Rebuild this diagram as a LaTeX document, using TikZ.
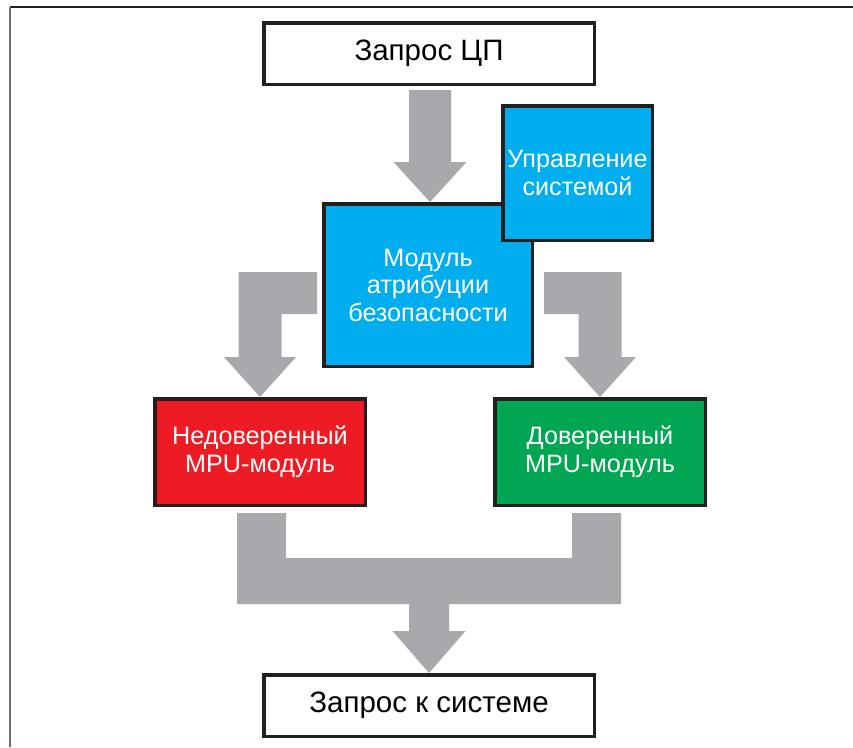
\documentclass[tikz,border=0pt]{standalone}
\usepackage{fontspec}
\setmainfont{Liberation Sans}
\usetikzlibrary{calc}

\definecolor{frameline}{HTML}{231F20}
\definecolor{frameside}{HTML}{6D6E71}
\definecolor{arrowgray}{HTML}{A7A9AC}
\definecolor{boxblue}{HTML}{00AEEF}
\definecolor{boxred}{HTML}{ED1C24}
\definecolor{boxgreen}{HTML}{00A651}

\tikzset{
  x=1pt, y=1pt,
  block/.style={draw=frameline, line width=3.5pt, rectangle, align=center,
                inner sep=0pt},
  plainbox/.style={block, fill=white, text=black, font=\fontsize{29.5}{34}\selectfont,
                   minimum width=330.5pt, minimum height=61.5pt},
  colorbox/.style={block, text=white, font=\fontsize{25.2}{27.5}\selectfont},
  blockarrow/.style={fill=arrowgray, draw=none},
}

\begin{document}
\begin{tikzpicture}
  \useasboundingbox (0,0) rectangle (853,-747);
  \fill[white] (0,0) rectangle (853,-747);

  % outer frame (top and left edges)
  \draw[frameline, line width=1.6pt] (10,-7) -- (853,-7);
  \draw[frameside, line width=1.1pt] (10,-7) -- (10,-747);

  % boxes
  \node[plainbox] (cpu) at (429,-53.5) {Запрос ЦП};
  \node[colorbox, fill=boxblue, minimum width=208.5pt, minimum height=162.5pt]
       (mod) at (428,-285) {Модуль\\атрибуции\\безопасности};
  \node[colorbox, fill=boxblue, minimum width=149.5pt, minimum height=134.5pt]
       (sysctl) at (577.5,-173) {Управление\\системой};
  \node[colorbox, fill=boxred, minimum width=210.5pt, minimum height=106.5pt]
       (untr) at (260,-452) {Недоверенный\\MPU-модуль};
  \node[colorbox, fill=boxgreen, minimum width=210.5pt, minimum height=106.5pt]
       (tr) at (600,-452) {Доверенный\\MPU-модуль};
  \node[plainbox] (sysreq) at (429,-705.5) {Запрос к системе};

  % CPU request -> attribution module
  \coordinate (t0) at ($(cpu.south)+(1,-4)$);
  \coordinate (t1) at (t0 |- mod.north);
  \fill[blockarrow] ($(t0)+(-21,0)$) -- ($(t0)+(21,0)$) -- ($(t1)+(21,40)$)
    -- ($(t1)+(36.5,40)$) -- (t1) -- ($(t1)+(-36.5,40)$) -- ($(t1)+(-21,40)$) -- cycle;

  % attribution module -> untrusted MPU module
  \coordinate (lh) at ($(mod.west)+(-5,0)$);
  \coordinate (lt) at (untr.north);
  \fill[blockarrow] ($(lh)+(0,13)$) -- ($(lt |- lh)+(-21.5,13)$)
    -- ($(lt)+(-21.5,40)$) -- ($(lt)+(-36,40)$) -- (lt) -- ($(lt)+(36,40)$)
    -- ($(lt)+(21.5,40)$) -- ($(lt |- lh)+(21.5,-29)$) -- ($(lh)+(0,-29)$) -- cycle;

  % attribution module -> trusted MPU module
  \coordinate (rh) at ($(mod.east)+(10,0)$);
  \coordinate (rt) at (tr.north);
  \fill[blockarrow] ($(rh)+(0,13)$) -- ($(rt |- rh)+(21.5,13)$)
    -- ($(rt)+(21.5,40)$) -- ($(rt)+(36,40)$) -- (rt) -- ($(rt)+(-36,40)$)
    -- ($(rt)+(-21.5,40)$) -- ($(rt |- rh)+(-21.5,-29)$) -- ($(rh)+(0,-29)$) -- cycle;

  % both MPU modules merge into the system request
  \coordinate (bl) at ($(untr.south)+(-23,-6)$);
  \coordinate (br) at ($(tr.south)+(21,-6)$);
  \coordinate (bt) at (sysreq.north);
  \fill[blockarrow] (bl) -- ($(bl)+(49,0)$) -- ($(bl)+(49,-45)$)
    -- ($(br)+(-49,-45)$) -- ($(br)+(-49,0)$) -- (br) -- ($(br)+(0,-91)$)
    -- ($(bt)+(20,69)$) -- ($(bt)+(20,42)$) -- ($(bt)+(36.5,42)$) -- (bt)
    -- ($(bt)+(-36.5,42)$) -- ($(bt)+(-20,42)$) -- ($(bt)+(-20,69)$)
    -- ($(bl)+(0,-91)$) -- cycle;
\end{tikzpicture}
\end{document}
